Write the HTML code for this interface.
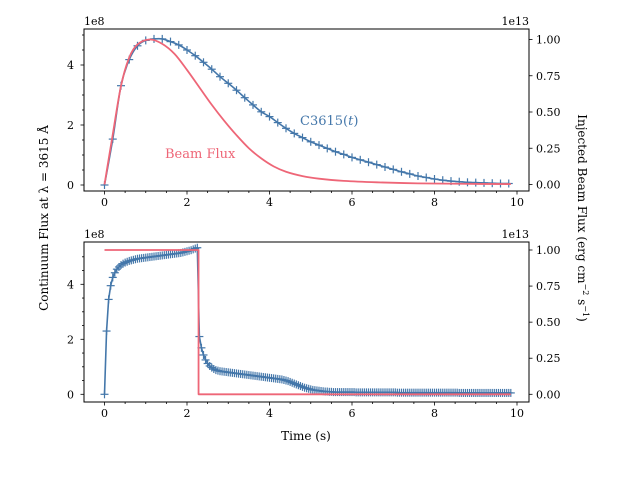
<!DOCTYPE html>
<html><head><meta charset="utf-8"><style>
html,body{margin:0;padding:0;background:#fff}
svg{display:block;font-family:"DejaVu Serif","Liberation Serif",serif}
</style></head><body>
<svg id="chart" width="640" height="480" viewBox="0 0 640 480" xmlns="http://www.w3.org/2000/svg"></svg>
<script>
// ---- data ----
const topCTimes=[0,0.2,0.4,0.6,0.8,1.0,1.2,1.4,1.6,1.8,2.0,2.2,2.4,2.6,2.8,3.0,3.2,3.4,3.6,3.8,4.0,4.2,4.4,4.6,4.8,5.0,5.2,5.4,5.6,5.8,6.0,6.2,6.4,6.6,6.8,7.0,7.2,7.4,7.6,7.8,8.0,8.2,8.4,8.6,8.8,9.0,9.2,9.4,9.6,9.8];
const topCValues=[0,1.53,3.31,4.18,4.64,4.82,4.87,4.87,4.78,4.67,4.5,4.31,4.09,3.86,3.61,3.39,3.16,2.91,2.67,2.44,2.28,2.08,1.89,1.72,1.58,1.44,1.33,1.22,1.11,1.02,0.92,0.84,0.76,0.68,0.60,0.52,0.44,0.37,0.30,0.25,0.20,0.16,0.13,0.11,0.09,0.08,0.07,0.06,0.05,0.05];
const topBeamTimes=[0,0.2,0.4,0.6,0.8,1.1,1.4,1.7,2.0,2.3,2.6,2.9,3.2,3.5,3.8,4.1,4.4,4.8,5.2,5.8,6.6,7.6,8.6,9.85];
const topBeamValues=[0,0.345,0.68,0.876,0.966,1.0,0.97,0.9,0.79,0.67,0.55,0.44,0.34,0.25,0.18,0.125,0.088,0.058,0.04,0.025,0.015,0.008,0.005,0.003];
const bottomStep=0.05;
const bottomCValues=[0,2.3,3.45,3.95,4.25,4.42,4.55,4.63,4.7,4.75,4.79,4.82,4.85,4.87,4.89,4.91,4.93,4.94,4.95,4.96,4.97,
4.98,4.99,5.00,5.01,5.02,5.03,5.04,5.05,5.06,5.07,5.08,5.09,5.10,5.11,5.12,5.13,5.14,5.16,5.18,5.20,5.22,5.24,5.27,5.30,5.33,
2.1,1.69,1.43,1.25,1.12,1.03,0.97,0.92,0.88,0.86,0.84,0.83,0.82,0.81,0.80,0.79,0.78,0.77,0.76,0.75,0.74,0.73,0.72,0.71,0.70,0.69,0.68,0.67,0.66,0.65,0.64,0.63,0.62,0.61,0.60,0.59,0.58,0.57,0.56,0.55,0.54,0.52,0.50,0.48,0.45,0.42,0.39,0.36,0.33,0.30,0.27,0.24,0.22,0.20,0.18,0.16,0.15,0.14,0.13,0.12,0.11,0.10,0.10,0.09,0.09,0.08,
0.08,0.08,0.08,0.08,0.08,0.08,0.08,0.08,0.08,0.08,
0.07,0.07,0.07,0.07,0.07,0.07,0.07,0.07,0.07,0.07,0.07,0.07,0.07,0.07,0.07,0.07,0.07,0.07,0.07,0.07,
0.06,0.06,0.06,0.06,0.06,0.06,0.06,0.06,0.06,0.06,0.06,0.06,0.06,0.06,0.06,0.06,0.06,0.06,0.06,0.06,0.06,0.06,0.06,0.06,0.06,0.06,0.06,0.06,0.06,0.06,
0.05,0.05,0.05,0.05,0.05,0.05,0.05,0.05,0.05,0.05,0.05,0.05,0.05,0.05,0.05,0.05,0.05,0.05,0.05,0.05,0.05,0.05,0.05,0.05,0.05,0.05];
const bottomBeamTimes=[0,2.28,2.28,9.85];
const bottomBeamValues=[1.0,1.0,0,0];
const xTicks=[0,2,4,6,8,10];
const leftTicks=[0,2,4];
const rightTicks=["0.00","0.25","0.50","0.75","1.00"];

// ---- setup ----
const NS="http://www.w3.org/2000/svg";
const svg=document.getElementById('chart');
const BLUE="#4477AA", RED="#EE6677";
function el(tag,attrs,parent){const e=document.createElementNS(NS,tag);for(const k in attrs)e.setAttribute(k,attrs[k]);(parent||svg).appendChild(e);return e;}
const X0=84,X1=529;
const xs=t=>104.5+t*41.25;
const panels=[
 {top:29,bot:191,ly:v=>185-v*30,ry:v=>184.5-v*145,name:'top'},
 {top:242,bot:402,ly:v=>394.3-v*27.5,ry:v=>394.3-v*144.3,name:'bottom'}
];
function txt(s,x,y,anchor,size,fill,parent){const t=el('text',{x:x,y:y,'text-anchor':anchor||'middle','font-size':size||11,fill:fill||'#000'},parent);t.textContent=s;return t;}

panels.forEach((p,pi)=>{
  const g=el('g',{});
  
  
  for(let t=0;t<=10.01;t+=0.5){
    const major=Math.abs(t-Math.round(t/2)*2)<1e-6;
    const x=xs(t);
    const tk=el('line',{x1:x,x2:x,y1:p.bot,y2:p.bot+(major?3.5:2),stroke:'#000','stroke-width':0.8},g);
    
    
  }
  xTicks.forEach(v=>{const l=txt(String(v),xs(v),p.bot+15,'middle',11,'#000',g);
    
    });
  for(let v=0;v<=5.01;v+=0.5){
    const y=p.ly(v); if(y<p.top) continue;
    const major=Math.abs(v-Math.round(v/2)*2)<1e-6;
    const tk=el('line',{x1:X0,x2:X0-(major?3.5:2),y1:y,y2:y,stroke:'#000','stroke-width':0.8},g);
    
    
  }
  leftTicks.forEach(v=>{const l=txt(String(v),74,p.ly(v)+4,'end',11,'#000',g);
    
    });
  rightTicks.forEach(s=>{const y=p.ry(parseFloat(s));
    const tk=el('line',{x1:X1,x2:X1+3.5,y1:y,y2:y,stroke:'#000','stroke-width':0.8},g);
    
    
    const l=txt(s,536,y+4,'start',11,'#000',g);
    
    });
  const o1=txt('1e8',X0,p.top-4,'start',11,'#000',g);
  
  
  const o2=txt('1e13',X1,p.top-4,'end',11,'#000',g);
  
  
});

function series(times,vals,yf,color,w,name){
  const pts=times.map((t,i)=>xs(t).toFixed(2)+','+yf(vals[i]).toFixed(2)).join(' ');
  const pl=el('polyline',{points:pts,fill:'none',stroke:color,'stroke-width':w,'stroke-linejoin':'round'});
  
  
}
function smoothSeries(times,vals,yf,color,w,name){
  const P=times.map((t,i)=>[xs(t),yf(vals[i])]);
  let d='M'+P[0][0].toFixed(2)+','+P[0][1].toFixed(2);
  for(let i=0;i<P.length-1;i++){
    const p0=P[Math.max(0,i-1)],p1=P[i],p2=P[i+1],p3=P[Math.min(P.length-1,i+2)];
    const c1=[p1[0]+(p2[0]-p0[0])/6,p1[1]+(p2[1]-p0[1])/6];
    const c2=[p2[0]-(p3[0]-p1[0])/6,p2[1]-(p3[1]-p1[1])/6];
    d+=' C'+c1[0].toFixed(2)+','+c1[1].toFixed(2)+' '+c2[0].toFixed(2)+','+c2[1].toFixed(2)+' '+p2[0].toFixed(2)+','+p2[1].toFixed(2);
  }
  const pa=el('path',{d:d,fill:'none',stroke:color,'stroke-width':w});
  
  
}
function markers(times,vals,yf,name){
  const g=el('g',{stroke:BLUE,'stroke-width':1.2});
  
  
  times.forEach((t,i)=>{const x=xs(t),y=yf(vals[i]);
    el('line',{x1:x-4,x2:x+4,y1:y,y2:y},g);el('line',{x1:x,x2:x,y1:y-4,y2:y+4},g);});
}
const P0=panels[0],P1=panels[1];
smoothSeries(topCTimes,topCValues,P0.ly,BLUE,1.6,'c3615-line-top');
markers(topCTimes,topCValues,P0.ly,'c3615-markers-top');
smoothSeries(topBeamTimes,topBeamValues,P0.ry,RED,1.8,'beam-flux-line-top');
const bottomTimes=bottomCValues.map((v,i)=>i*bottomStep);
series(bottomTimes,bottomCValues,P1.ly,BLUE,1.6,'c3615-line-bottom');
markers(bottomTimes,bottomCValues,P1.ly,'c3615-markers-bottom');
series(bottomBeamTimes,bottomBeamValues,P1.ry,RED,1.8,'beam-flux-line-bottom');

panels.forEach(p=>{const r=el('rect',{x:X0,y:p.top,width:X1-X0,height:p.bot-p.top,fill:'none',stroke:'#000','stroke-width':1});
  
  });

const a1=txt('C3615(',300,125,'start',13,BLUE);


a1.innerHTML='C3615(<tspan font-style="italic">t</tspan>)';
const a2=txt('Beam Flux',165,158,'start',13,RED);



const xl=txt('Time (s)',306,440,'middle',12);


const yl=txt('Continuum Flux at λ = 3615 Å',0,0,'middle',12);
yl.setAttribute('transform','translate(48,218) rotate(-90)');


const yr=txt('',0,0,'middle',12);
yr.innerHTML='Injected Beam Flux  (erg cm<tspan dy="-5" font-size="8">−2</tspan><tspan dy="5"> s</tspan><tspan dy="-5" font-size="8">−1</tspan><tspan dy="5">)</tspan>';
yr.setAttribute('transform','translate(578,218) rotate(90)');


</script>
</body></html>
